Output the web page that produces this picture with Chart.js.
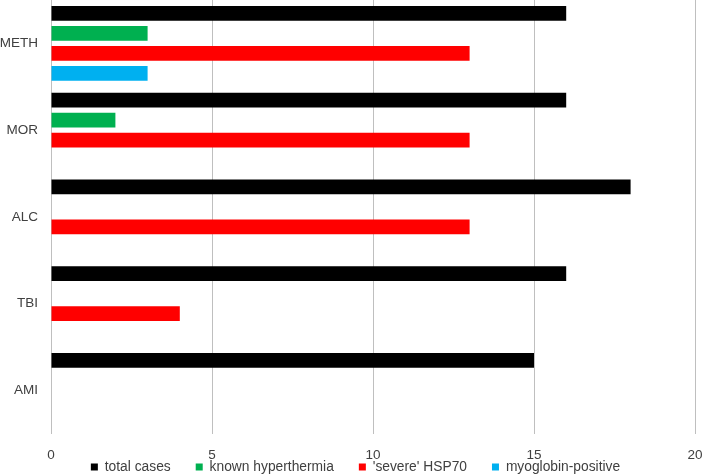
<!DOCTYPE html>
<html>
<head>
<meta charset="utf-8">
<script src="https://cdn.jsdelivr.net/npm/chart.js@4/dist/chart.umd.min.js"></script>
<style>
html,body{margin:0;padding:0;background:#fff;}
#wrap{width:702px;height:475px;position:relative;}
</style>
</head>
<body>
<div id="wrap"><canvas id="c"></canvas></div>
<script>
const categories = ["METH", "MOR", "ALC", "TBI", "AMI"];
const seriesNames = ["total cases", "known hyperthermia", "'severe' HSP70", "myoglobin-positive"];
const totalCases = [16, 16, 18, 16, 15];
const knownHyperthermia = [3, 2, 0, 0, 0];
const severeHSP70 = [13, 13, 13, 4, 0];
const myoglobinPositive = [3, 0, 0, 0, 0];
const xTicks = [0, 5, 10, 15, 20];
const colors = ["#000000", "#00b050", "#ff0000", "#00b0f0"];

const values = [totalCases, knownHyperthermia, severeHSP70, myoglobinPositive];
const datasets = seriesNames.map((n, i) => ({
  label: n,
  data: values[i],
  backgroundColor: colors[i],
  borderWidth: 0,
  barPercentage: 0.74,
  categoryPercentage: 0.92
}));

Chart.defaults.font.family = "'Liberation Sans', Arial, sans-serif";
Chart.defaults.font.size = 13.5;
Chart.defaults.color = "#404040";

const legendPlace = {
  id: "legendPlace",
  afterLayout(chart) {
    const lg = chart.legend;
    if (!lg) return;
    const h = lg.height;
    lg.top = 435; lg.bottom = 435 + h;
    lg.left += 8; lg.right += 8;
  }
};

new Chart(document.getElementById("c"), {
  type: "bar",
  data: { labels: categories, datasets },
  plugins: [legendPlace],
  options: {
    indexAxis: "y",
    responsive: true,
    maintainAspectRatio: false,
    animation: false,
    layout: { padding: { top: 0, right: 7, bottom: -35.5, left: 0 } },
    scales: {
      x: {
        min: 0, max: 20,
        afterBuildTicks: (s) => { s.ticks = xTicks.map(v => ({ value: v })); },
        grid: { color: "#bfbfbf", drawTicks: false, lineWidth: 1 },
        border: { display: false },
        ticks: { padding: 13, color: "#404040", maxRotation: 0, autoSkip: false },
        afterFit: (s) => { s.height = 28; s.paddingLeft = 0; s.paddingRight = 0; }
      },
      y: {
        grid: { display: false, drawTicks: false },
        border: { display: false },
        ticks: { padding: 13, color: "#404040" },
        afterFit: (s) => { s.width = 51; s.paddingTop = 0; s.paddingBottom = 0; }
      }
    },
    plugins: {
      legend: {
        position: "bottom",
        labels: { boxWidth: 7, boxHeight: 7, padding: 25, color: "#404040", font: { size: 13.8 } }
      },
      tooltip: { enabled: false }
    }
  }
});
</script>
</body>
</html>
